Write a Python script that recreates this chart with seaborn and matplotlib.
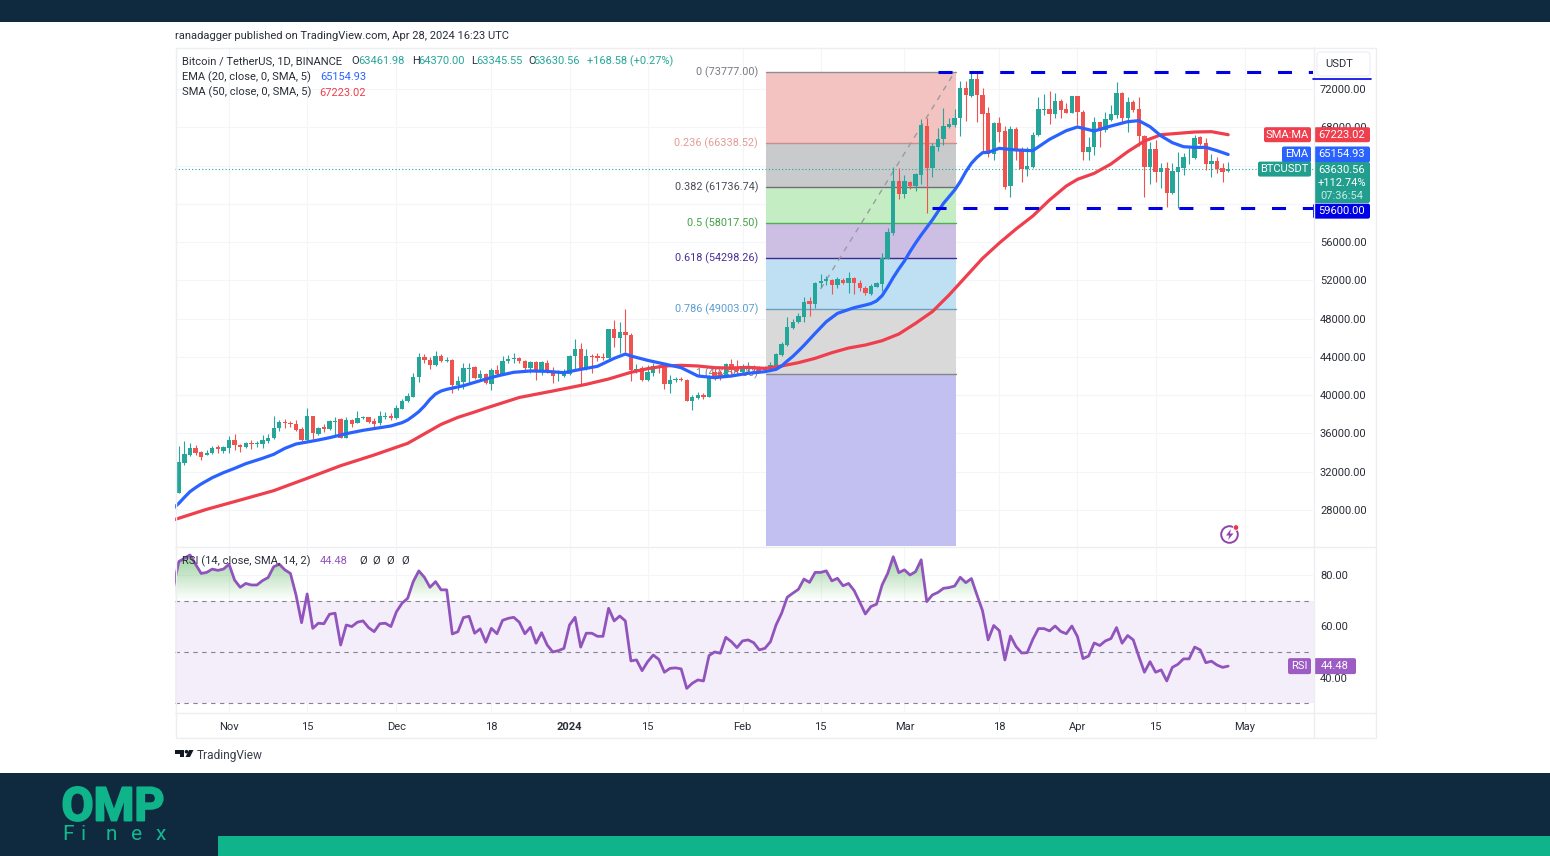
import numpy as np
import pandas as pd
import seaborn as sns
import matplotlib
matplotlib.use("Agg")
import matplotlib.pyplot as plt
import matplotlib.dates as mdates
from matplotlib.patches import Rectangle, FancyBboxPatch, Circle, Polygon, PathPatch
from matplotlib.path import Path
import matplotlib.patheffects as pe

# BTCUSDT daily candles, first candle is 2023-10-23
FIRST_DAY = "2023-10-23"
OPEN = [
    29810, 32880, 33750, 34510, 34095, 33750, 33920, 34580, 34200, 34480,
    35315, 34830, 34580, 34965, 34860, 34860, 35210, 35490, 36535, 37195,
    37090, 36985, 36430, 35315, 37790, 35940, 36670, 36430, 37230, 37475,
    35560, 37405, 37125, 37650, 37685, 37335, 37090, 37685, 37825, 37615,
    38590, 39355, 39840, 41865, 43990, 43675, 43120, 44095, 43570, 43675,
    41065, 41410, 42770, 42910, 41760, 42215, 41170, 42630, 42180, 43570,
    43745, 43885, 43570, 42875, 43500, 42455, 43400, 42525, 42285, 42005,
    42215, 44060, 44825, 42770, 44130, 44095, 44025, 43850, 46880, 45940,
    46600, 46290, 42630, 42805, 41585, 42350, 43050, 42910, 41170, 41585,
    41655, 41620, 39425, 39740, 39985, 39845, 42457, 42387, 42039, 43223,
    42979, 42387, 42735, 42979, 42875, 42875, 42735, 42800, 44200, 45210,
    47020, 47610, 48200, 49880, 49490, 51760, 51900, 52040, 51510, 52040,
    51690, 52210, 51760, 51235, 50570, 51340, 51620, 54230, 56910, 62380,
    61025, 62310, 61860, 63010, 68170, 63710, 65970, 66770, 68060, 68240,
    68930, 72070, 71300, 73045, 71370, 69460, 65205, 68410, 67610, 61860,
    67820, 65625, 63600, 63810, 67155, 69805, 69945, 69390, 70780, 69875,
    69525, 71230, 69630, 65415, 65900, 68515, 67715, 68760, 69280, 71615,
    68970, 70640, 69910, 67090, 63880, 65695, 63360, 63710, 61095, 63360,
    63780, 64860, 64825, 66950, 66320, 64160, 64475, 63740, 63461.98,
]
HIGH = [
    34690, 35210, 35035, 34790, 34200, 34270, 34690, 34790, 34690, 35730,
    35905, 34900, 35140, 35315, 35175, 35800, 35905, 37820, 37405, 37475,
    37335, 37405, 36710, 38625, 37860, 36710, 36985, 37405, 37685, 37580,
    37755, 37475, 38345, 37790, 37755, 37580, 38345, 38275, 38100, 38975,
    39600, 40190, 42350, 44375, 44270, 44025, 44650, 44305, 43955, 43730,
    42005, 43330, 43330, 43050, 42630, 42350, 42805, 43155, 44130, 44165,
    44375, 43955, 43675, 43605, 43570, 43605, 43675, 42910, 42630, 42700,
    44165, 45835, 45420, 44790, 44305, 44375, 44445, 46950, 47855, 47680,
    48970, 46465, 43260, 43050, 43190, 43330, 43155, 43050, 42110, 41865,
    41865, 41655, 40020, 40365, 40190, 42110, 42735, 42631, 43328, 43781,
    43676, 43223, 43432, 43154, 43084, 43084, 43502, 44440, 45590, 48200,
    47930, 48550, 50300, 50230, 51860, 52660, 52450, 52110, 52390, 52210,
    52840, 52390, 52040, 51410, 51620, 51860, 54890, 57440, 63880, 63710,
    63010, 62420, 63255, 68830, 68930, 66320, 67890, 69980, 68930, 69870,
    72840, 72870, 73777, 73700, 72070, 70080, 68585, 69040, 68130, 68130,
    68060, 65970, 65970, 67540, 71130, 71480, 71825, 71550, 70920, 70500,
    71270, 71270, 69805, 67020, 69110, 68585, 69630, 70330, 72765, 71685,
    71130, 70850, 71200, 67190, 66495, 66670, 64230, 64405, 64230, 65380,
    65275, 65800, 67190, 67090, 66845, 65205, 64925, 64230, 64370,
]
LOW = [
    29810, 32700, 33640, 33750, 33225, 33710, 33850, 33990, 33990, 33990,
    34270, 34060, 34510, 34370, 34580, 34510, 35035, 35455, 36255, 36605,
    36670, 36255, 35245, 35245, 35385, 35835, 36150, 36360, 35835, 35490,
    35490, 36710, 37055, 37475, 37055, 36570, 36850, 37475, 37405, 37545,
    38520, 39285, 39775, 41375, 43325, 42770, 43050, 43465, 43500, 40190,
    40540, 40610, 41310, 41655, 41585, 41170, 40540, 41865, 42110, 43330,
    43400, 43330, 42455, 42350, 41585, 42110, 42285, 41310, 41515, 41865,
    42110, 42770, 41065, 42630, 42350, 43605, 43675, 43780, 45000, 44375,
    44550, 41515, 42285, 41515, 41515, 42005, 42285, 40610, 40190, 41410,
    41515, 39390, 38450, 39635, 39565, 39775, 41586, 41586, 41934, 41934,
    42108, 42178, 42283, 42526, 42283, 42387, 42631, 42800, 44090, 45140,
    46880, 47510, 47680, 48270, 49070, 51270, 51510, 50570, 51165, 51620,
    50710, 50570, 50920, 50470, 50500, 51270, 50920, 54200, 56740, 60470,
    60570, 61510, 61370, 62070, 59005, 62770, 65550, 66150, 67890, 68060,
    67090, 68655, 71200, 68515, 65450, 64930, 64580, 66495, 61510, 60750,
    64580, 62315, 62940, 63740, 67090, 69280, 68340, 68935, 68935, 69455,
    69455, 68240, 64580, 64580, 65100, 65970, 67540, 68690, 68935, 68410,
    67540, 69630, 66040, 60680, 62070, 62315, 61620, 59700, 61025, 59530,
    63010, 64160, 64720, 66145, 63535, 62765, 63255, 62315, 63345.55,
]
CLOSE = [
    32980, 33850, 34440, 33920, 33570, 33990, 34480, 34370, 34580, 35315,
    34760, 34620, 34965, 34860, 34965, 35350, 35525, 36570, 37195, 37055,
    36985, 36360, 35315, 37790, 36010, 36535, 36500, 37300, 37300, 35560,
    37405, 36950, 37650, 37720, 37195, 37020, 37790, 37790, 37650, 38660,
    39425, 39910, 41935, 43990, 43640, 43155, 44130, 43535, 43675, 41100,
    41480, 42805, 42875, 41830, 42215, 41240, 42630, 42180, 43605, 43815,
    43920, 43605, 42875, 43500, 42455, 43500, 42455, 42005, 42350, 42285,
    44095, 44825, 42805, 44095, 44025, 43850, 43850, 46880, 45940, 46570,
    46290, 42630, 42735, 41585, 42390, 43050, 42805, 41170, 41550, 41725,
    41585, 39425, 39775, 40050, 39845, 41865, 42039, 42039, 43223, 42631,
    42526, 43084, 43084, 42735, 42526, 42631, 43154, 44300, 45310, 47090,
    47680, 48270, 49770, 49490, 51760, 51930, 52110, 51510, 52110, 51760,
    52210, 51690, 51165, 50640, 51410, 51690, 54300, 57090, 62380, 61025,
    62380, 61860, 63080, 68240, 63710, 66080, 66810, 68130, 68310, 68970,
    72100, 71340, 73045, 71370, 69390, 65205, 68410, 67540, 61790, 67820,
    65555, 63600, 63950, 67225, 69875, 69945, 69390, 70745, 69805, 69525,
    71230, 69630, 65450, 65970, 68515, 67645, 68830, 69390, 71615, 69000,
    70640, 69805, 67090, 63880, 65695, 63360, 63780, 61165, 63430, 63850,
    64890, 64930, 66845, 66250, 64160, 64475, 63640, 63360, 63630.56,
]

# moving averages, sampled at day offsets from FIRST_DAY
EMA_DAY = [
    -1, 0, 1, 2, 3, 4, 6, 8, 10, 12,
    15, 17, 19, 21, 23, 25, 27, 30, 33, 36,
    38, 40, 41, 42, 43, 44, 45, 46, 47, 48,
    51, 54, 57, 60, 63, 66, 69, 72, 75, 78,
    80, 81, 84, 87, 90, 93, 96, 99, 102, 105,
    107, 108, 109, 110, 111, 112, 114, 116, 118, 121,
    123, 124, 125, 126, 127, 128, 129, 130, 131, 132,
    133, 135, 137, 139, 140, 141, 142, 143, 144, 145,
    147, 150, 153, 156, 159, 161, 164, 167, 170, 172,
    174, 176, 178, 180, 182, 184, 186, 188,
]
EMA = [
    28170, 28690, 29320, 29914, 30332, 30716, 31377, 31900, 32353, 32840,
    33400, 33816, 34443, 34896, 35105, 35315, 35558, 35976, 36324, 36600,
    36780, 37126, 37405, 37823, 38276, 38868, 39565, 40122, 40436, 40610,
    40990, 41515, 42005, 42390, 42530, 42490, 42350, 42700, 43015, 43850,
    44300, 44095, 43640, 43260, 42875, 42005, 41830, 42005, 42285, 42455,
    42700, 43050, 43570, 44050, 44615, 45200, 46460, 47680, 48550, 49145,
    49420, 49570, 49850, 50400, 51300, 52300, 53200, 54020, 55000, 55900,
    56740, 58310, 60050, 61440, 62310, 63360, 64230, 64860, 65345, 65380,
    65800, 65625, 65555, 66740, 67645, 68030, 67610, 68130, 68585, 68690,
    68060, 67090, 66390, 65970, 65900, 65900, 65555, 65154.93,
]
SMA_DAY = [
    -1, 5, 11, 17, 23, 29, 35, 41, 47, 50,
    53, 55, 61, 67, 73, 77, 81, 84, 87, 90,
    93, 96, 99, 102, 105, 108, 111, 114, 117, 120,
    123, 126, 129, 132, 135, 138, 141, 144, 147, 150,
    153, 156, 159, 161, 164, 167, 170, 173, 176, 179,
    182, 185, 188,
]
SMA = [
    26950, 28070, 29040, 30020, 31310, 32630, 33750, 34965, 36950, 37680,
    38242, 38640, 39760, 40435, 41135, 41690, 42390, 42770, 43050, 43120,
    43050, 42875, 42840, 42910, 42800, 43050, 43395, 43850, 44440, 44930,
    45240, 45695, 46390, 47510, 48730, 50470, 52385, 54300, 55900, 57370,
    58725, 60400, 61860, 62560, 63185, 64160, 65450, 66565, 67225, 67365,
    67505, 67540, 67223.02,
]

# RSI, one value per day starting the day before FIRST_DAY
RSI = [
    74.8, 85.2, 86.5, 87.8, 84.2, 80.6, 81.0, 82.3, 81.8, 82.3, 84.2, 78.0,
    75.2, 76.7, 76.1, 76.1, 77.8, 79.0, 83.2, 84.2, 82.0, 80.6, 72.2, 61.4,
    72.6, 59.2, 61.2, 61.0, 64.7, 65.1, 52.7, 60.5, 59.9, 61.6, 62.1, 59.5,
    57.9, 61.0, 61.2, 59.9, 65.7, 69.0, 70.9, 77.4, 81.6, 79.1, 75.2, 77.4,
    74.2, 74.2, 57.0, 57.9, 63.4, 63.9, 57.3, 59.0, 53.8, 59.2, 57.1, 62.3,
    63.1, 63.5, 61.6, 57.1, 59.6, 53.4, 57.5, 52.7, 50.0, 50.5, 51.4, 60.5,
    63.5, 51.9, 57.3, 57.3, 56.1, 56.1, 67.0, 62.1, 64.0, 62.1, 46.5, 46.9,
    42.7, 46.2, 48.8, 47.1, 42.1, 43.6, 43.8, 43.4, 35.8, 37.8, 39.1, 38.7,
    48.6, 50.0, 49.5, 55.7, 54.0, 51.7, 54.3, 54.7, 53.6, 50.8, 51.4, 54.0,
    60.5, 65.1, 71.3, 72.9, 74.4, 78.4, 77.1, 81.0, 81.0, 81.6, 77.7, 78.7,
    75.8, 76.7, 73.9, 69.4, 64.8, 67.7, 68.6, 76.1, 80.6, 87.1, 80.9, 82.0,
    80.0, 81.3, 85.9, 69.6, 72.2, 73.2, 74.8, 75.1, 75.7, 79.1, 77.0, 78.6,
    72.2, 66.0, 54.7, 60.3, 58.3, 46.9, 56.2, 52.1, 49.6, 49.7, 54.9, 59.1,
    59.1, 58.2, 60.1, 58.0, 57.1, 60.1, 56.0, 47.4, 48.4, 53.5, 52.5, 54.3,
    55.2, 59.5, 53.4, 56.4, 54.7, 48.2, 42.1, 46.2, 42.1, 43.0, 38.7, 44.0,
    45.2, 47.3, 47.3, 51.9, 50.8, 45.8, 46.4, 44.9, 44.0, 44.48,
]

FIB_RATIO = ["0", "0.236", "0.382", "0.5", "0.618", "0.786", "1"]
FIB_LEVEL = [73777.00, 66338.52, 61736.74, 58017.50, 54298.26, 49003.07, 42258.00]
FIB_LINE = ["#8f8f94", "#c98f8c", "#6f6f74", "#4caf50", "#3c2a8c", "#6a9fc4", "#85858a"]
FIB_TEXT = ["#787b86", "#e39c96", "#4a4d57", "#43a047", "#4a2f96", "#5a9fd0", "#787b86"]
FIB_ZONE = ["#f2c3c1", "#c9cacc", "#c5edc3", "#cdbfe4", "#bfe0f2", "#d9d9d9", "#c2c0f0"]
FIB_START = "2024-02-05 05:00"
FIB_END = "2024-03-10 05:00"
TREND_DAYS = ["2024-02-15", "2024-03-10"]
TREND_PRICE = [51096, 73777]

RESISTANCE = 73777
SUPPORT = 59600
RES_START = "2024-03-07"
SUP_START = "2024-03-06"

PRICE_TICKS = list(range(28000, 76000, 4000))
HIDDEN_TICKS = [60000, 64000]  # these sit fully behind the price tags
RSI_TICKS = [40, 60, 80]
RSI_BANDS = [70, 50, 30]
TIME_TICKS = ["2023-11-01", "2023-11-15", "2023-12-01", "2023-12-18", "2024-01-01", "2024-01-15",
              "2024-02-01", "2024-02-15", "2024-03-01", "2024-03-18", "2024-04-01", "2024-04-15", "2024-05-01"]
TIME_LABELS = ["Nov", "15", "Dec", "18", "2024", "15", "Feb", "15", "Mar", "18", "Apr", "15", "May"]

NAVY = "#0f2a3f"
TEAL = "#10b48a"
UP = "#26a69a"
DOWN = "#ef5350"
BLUE = "#2962ff"
RED = "#ef3e4c"
PURPLE = "#9154bd"
DASH_BLUE = "#0000e6"
TXT = "#2a2e39"
LINE = "#eceef2"

sns.set_theme(style="white")
plt.rcParams["font.family"] = ["Roboto", "DejaVu Sans"]

W, H = 1550, 856
fig = plt.figure(figsize=(W / 100, H / 100), dpi=100, facecolor="white")


def pane(x0, y0, x1, y1, **kw):
    return fig.add_axes([x0 / W, 1 - y1 / H, (x1 - x0) / W, (y1 - y0) / H], **kw)


ax = pane(175, 47, 1313, 546)
ax_rsi = pane(175, 547, 1313, 712, sharex=ax)

first = pd.Timestamp(FIRST_DAY)
candles = pd.DataFrame({"date": pd.date_range(first, periods=len(CLOSE)),
                        "open": OPEN, "high": HIGH, "low": LOW, "close": CLOSE})
candles["color"] = np.where(candles["close"] >= candles["open"], UP, DOWN)
ema_df = pd.DataFrame({"date": first + pd.to_timedelta(EMA_DAY, unit="D"), "value": EMA})
sma_df = pd.DataFrame({"date": first + pd.to_timedelta(SMA_DAY, unit="D"), "value": SMA})
rsi_df = pd.DataFrame({"date": pd.date_range(first - pd.Timedelta(days=1), periods=len(RSI)), "value": RSI})

# fibonacci zones, the last one runs down to the pane bottom
ymin, ymax = 24236, 76390
fib_x = pd.to_datetime([FIB_START, FIB_END])
zone_edges = FIB_LEVEL + [ymin]
for i, color in enumerate(FIB_ZONE):
    ax.fill_between(fib_x, zone_edges[i + 1], zone_edges[i], color=color, lw=0, zorder=1)
for level, color in zip(FIB_LEVEL, FIB_LINE):
    ax.plot(fib_x, [level, level], color=color, lw=1, zorder=1.5)
ax.plot(pd.to_datetime(TREND_DAYS), TREND_PRICE, color="#9a9aa0", lw=1, dashes=(4, 4), zorder=1.6)
for ratio, level, color in zip(FIB_RATIO, FIB_LEVEL, FIB_TEXT):
    ax.annotate(f"{ratio} ({level:.2f})", xy=(fib_x[0], level), xytext=(-8, 0), textcoords="offset pixels",
                ha="right", va="center", fontsize=7.8, color=color, zorder=1.7)

# candles
ax.vlines(candles["date"], candles["low"], candles["high"], colors=candles["color"], lw=0.8, zorder=3)
body_low = candles[["open", "close"]].min(axis=1)
body_h = (candles["open"] - candles["close"]).abs().clip(lower=80)
ax.bar(candles["date"], body_h, bottom=body_low, width=0.78, color=candles["color"], lw=0, zorder=3.1)

# moving averages
sns.lineplot(data=sma_df, x="date", y="value", ax=ax, color=RED, lw=2.3, estimator=None, sort=False, zorder=4)
sns.lineplot(data=ema_df, x="date", y="value", ax=ax, color=BLUE, lw=2.3, estimator=None, sort=False, zorder=4.1)

# support and resistance drawn by the author
right_edge = first + pd.Timedelta(days=204)
ax.plot(pd.to_datetime([RES_START, right_edge]), [RESISTANCE, RESISTANCE], color=DASH_BLUE, lw=2.2,
        dashes=(4.6, 5.5), dash_capstyle="butt", zorder=5)
ax.plot(pd.to_datetime([SUP_START, right_edge]), [SUPPORT, SUPPORT], color=DASH_BLUE, lw=2.2,
        dashes=(4.6, 5.5), dash_capstyle="butt", zorder=5)
ax.axhline(CLOSE[-1], color=UP, lw=0.8, ls=(0, (1, 2)), zorder=2)

# RSI pane
ax_rsi.fill_between(pd.to_datetime([first - pd.Timedelta(days=2), right_edge]), 30, 70, color="#f3eef9", lw=0, zorder=1)
for band in RSI_BANDS:
    ax_rsi.axhline(band, color="#85858f", lw=0.8, ls=(0, (4, 4)), zorder=2)
rsi_vals = rsi_df["value"].to_numpy()
over = ax_rsi.fill_between(mdates.date2num(rsi_df["date"]), 70, rsi_vals, where=rsi_vals >= 70, interpolate=True,
                           color="none", lw=0)
grad = np.zeros((64, 1, 4))
grad[..., 0], grad[..., 1], grad[..., 2] = 76 / 255, 175 / 255, 80 / 255
grad[:, 0, 3] = np.linspace(0.0, 0.62, 64)
xr = mdates.date2num([first - pd.Timedelta(days=2), right_edge])
im = ax_rsi.imshow(grad, extent=[xr[0], xr[1], 70, 90], origin="lower", aspect="auto", zorder=2.5)
im.set_clip_path(PathPatch(Path.make_compound_path(*over.get_paths()), transform=ax_rsi.transData))
sns.lineplot(data=rsi_df, x="date", y="value", ax=ax_rsi, color=PURPLE, lw=2.0, estimator=None, sort=False, zorder=4)

# axes
x0_num = mdates.date2num(first)
ax.set_xlim(x0_num - 0.68, x0_num + 203.2)
ax.set_ylim(ymin, ymax)
ax_rsi.set_ylim(26.6, 90.9)
for a in (ax, ax_rsi):
    a.set_xlabel("")
    a.set_ylabel("")
    a.yaxis.tick_right()
    a.tick_params(axis="both", length=0, labelsize=8, labelcolor=TXT, pad=5)
    a.grid(True, color="#f3f5f9", lw=0.8)
    a.set_axisbelow(True)
    sns.despine(ax=a, left=True, right=True, top=True, bottom=True)
ax.set_yticks(PRICE_TICKS)
ax.set_yticklabels(["" if p in HIDDEN_TICKS else f"{p:.2f}" for p in PRICE_TICKS])
ax_rsi.set_yticks(RSI_TICKS)
ax_rsi.set_yticklabels([f"{p:.2f}" for p in RSI_TICKS])
ax_rsi.set_xticks(mdates.date2num(pd.to_datetime(TIME_TICKS)))
ax_rsi.set_xticklabels(TIME_LABELS)
ax_rsi.tick_params(axis="x", pad=7)
ax.tick_params(axis="x", labelbottom=False)
for lbl in ax_rsi.get_xticklabels():
    if lbl.get_text() == "2024":
        lbl.set_fontweight("bold")

# everything around the chart is laid out in pixels on a top layer
ov = fig.add_axes([0, 0, 1, 1], zorder=10)
ov.set_xlim(0, W)
ov.set_ylim(H, 0)
ov.axis("off")
ov.patch.set_alpha(0)

ov.add_patch(Rectangle((0, 0), W, 22, fc=NAVY, ec="none"))
ov.add_patch(Rectangle((0, 773), W, 83, fc=NAVY, ec="none"))
ov.add_patch(Rectangle((218, 836), W - 218, 20, fc=TEAL, ec="none"))

ov.add_patch(Rectangle((175.5, 47.5), 1200, 690.5, fc="none", ec=LINE, lw=1))
ov.plot([1313.5, 1313.5], [47, 738], color=LINE, lw=1)
ov.plot([175, 1376], [546.5, 546.5], color=LINE, lw=1)
ov.plot([175, 1376], [712.5, 712.5], color=LINE, lw=1)


def txt(x, y, s, color=TXT, size=8.05, ha="left", **kw):
    return ov.text(x, y, s, color=color, fontsize=size, ha=ha, va="center", **kw)


def price_y(axis, value):
    return H - axis.transData.transform((x0_num, value))[1]


def tag(x0, x1, yc, h, s, color, size=8, fg="white"):
    ov.add_patch(FancyBboxPatch((x0 + 1.5, yc - h / 2 + 1.5), x1 - x0 - 3, h - 3,
                                boxstyle="round,pad=1.5,rounding_size=2", fc=color, ec="none"))
    txt((x0 + x1) / 2, yc, s, color=fg, size=size, ha="center")


txt(175, 35.5, "ranadagger published on TradingView.com, Apr 28, 2024 16:23 UTC", size=8.0)

# legend rows
txt(182, 61, "Bitcoin / TetherUS, 1D, BINANCE")
for x, s in [(351.5, "O"), (412, "H"), (471, "L"), (528, "C")]:
    txt(x, 61, s)
for x, s in [(358, "63461.98"), (418, "64370.00"), (476, "63345.55"), (533, "63630.56"), (587, "+168.58 (+0.27%)")]:
    txt(x, 61, s, color=UP, size=7.9)
txt(182, 77, "EMA (20, close, 0, SMA, 5)")
txt(320, 77, f"{EMA[-1]:.2f}", color=BLUE, size=7.9)
txt(182, 92.5, "SMA (50, close, 0, SMA, 5)")
txt(319, 92.5, f"{SMA[-1]:.2f}", color=RED, size=7.9)
txt(182, 561, "RSI (14, close, SMA, 14, 2)")
txt(320, 561, f"{RSI[-1]:.2f}", color=PURPLE, size=7.9)
for x in [359, 372.5, 386.5, 401]:
    txt(x, 561, "Ø")

# currency button
ov.add_patch(FancyBboxPatch((1318, 53), 51, 22, boxstyle="round,pad=1,rounding_size=3", fc="white", ec="#eef0f4", lw=1))
txt(1325, 63.5, "USDT", size=8)
ov.plot([1313, 1371], [79.3, 79.3], color=DASH_BLUE, lw=1.2)

# price tags
tag(1264, 1311, price_y(ax, SMA[-1]), 15, "SMA:MA", RED)
tag(1314, 1370, price_y(ax, SMA[-1]), 15, f"{SMA[-1]:.2f}", RED)
tag(1282, 1311, price_y(ax, EMA[-1]), 16, "EMA", BLUE)
tag(1314, 1370, price_y(ax, EMA[-1]), 16, f"{EMA[-1]:.2f}", BLUE)
tag(1258, 1311, price_y(ax, CLOSE[-1]), 15, "BTCUSDT", "#229e8e")
ov.add_patch(FancyBboxPatch((1315.5, 163.5), 53, 38, boxstyle="round,pad=1.5,rounding_size=2", fc="#229e8e", ec="none"))
txt(1342, 170, f"{CLOSE[-1]:.2f}", color="white", size=8, ha="center")
txt(1342, 183, "+112.74%", color="white", size=8, ha="center")
txt(1342, 196, "07:36:54", color="#c9ece6", size=8, ha="center")
tag(1313, 1370, price_y(ax, SUPPORT) + 3.5, 15, f"{SUPPORT:.2f}", DASH_BLUE)
tag(1288, 1311, price_y(ax_rsi, RSI[-1]), 16, "RSI", "#9c5cc4")
tag(1314, 1356, price_y(ax_rsi, RSI[-1]), 16, f"{RSI[-1]:.2f}", "#9c5cc4")

# bolt badge near the bottom of the price pane
ov.add_patch(Circle((1229.5, 534.5), 8.3, fc="white", ec="#8e44ad", lw=1.4))
ov.add_patch(Polygon([(1231, 529), (1226, 535.5), (1229.3, 535.5), (1228, 540), (1233.5, 533.5), (1230, 533.5)],
                     fc="#8e44ad", ec="none"))
ov.add_patch(Circle((1236, 527.5), 2.8, fc="#e8394a", ec="white", lw=0.6))

# TradingView mark
ov.add_patch(Polygon([(175, 750), (184, 750), (184, 757), (179.5, 757), (179.5, 753.5), (175, 753.5)], fc="#131722", ec="none"))
ov.add_patch(Circle((186.5, 751.7), 1.8, fc="#131722", ec="none"))
ov.add_patch(Polygon([(189, 750), (193.5, 750), (190, 757), (185.5, 757)], fc="#131722", ec="none"))
txt(196.5, 755, "TradingView", color="#3a3e49", size=8.6)

# OMP Finex logo in the footer
omp = ov.text(61.5, 807.5, "OMP", color=TEAL, fontsize=33.5, fontweight="bold", ha="left", va="center")
omp.set_path_effects([pe.withStroke(linewidth=1.4, foreground=TEAL)])
for x, ch in zip([62, 81, 106, 131, 156], "Finex"):
    ov.text(x, 835, ch, color="#14b890", fontsize=15, ha="left", va="center")

fig.savefig("out.png", dpi=100, facecolor="white")
plt.close(fig)
